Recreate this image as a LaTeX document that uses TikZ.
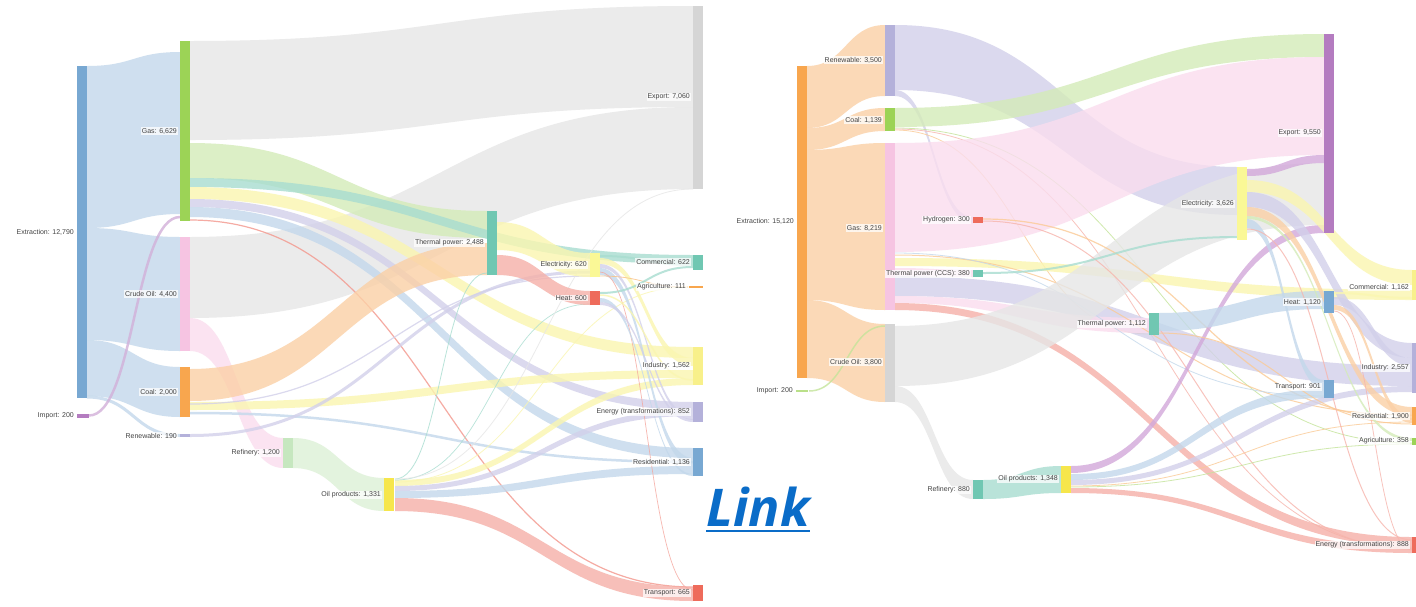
\documentclass[tikz,border=0pt]{standalone}
\usepackage{fontspec}
\setmainfont{Liberation Sans}
\newfontfamily\linkfont{Open Sans}
\definecolor{bBlue}{HTML}{C3D8EB}
\definecolor{bGray}{HTML}{E6E6E6}
\definecolor{bGreen}{HTML}{D4EBB8}
\definecolor{bTeal}{HTML}{A8DDD0}
\definecolor{bYel}{HTML}{FAF6B0}
\definecolor{bLav}{HTML}{D2D0EA}
\definecolor{bRed}{HTML}{F5B0A8}
\definecolor{bPink}{HTML}{FADDEE}
\definecolor{bOr}{HTML}{FBD0A6}
\definecolor{bLGreen}{HTML}{DCF0D6}
\definecolor{bPur}{HTML}{D2A8DA}
\definecolor{cBlue}{HTML}{78A8D2}
\definecolor{cGreen}{HTML}{9CD356}
\definecolor{cPink}{HTML}{F6C4E2}
\definecolor{cOr}{HTML}{F8A64E}
\definecolor{cLav}{HTML}{B4B1DA}
\definecolor{cTeal}{HTML}{70C7B2}
\definecolor{cYel}{HTML}{FAF896}
\definecolor{cYel2}{HTML}{F8F08A}
\definecolor{cRed}{HTML}{EE6B5B}
\definecolor{cGray}{HTML}{D5D5D5}
\definecolor{cPur}{HTML}{B47CC0}
\definecolor{cOil}{HTML}{F6E64C}
\definecolor{cRefL}{HTML}{C6E7BF}
\definecolor{linkblue}{HTML}{0A6CC8}
\definecolor{labtext}{HTML}{444444}
\newcommand{\band}[7]{%
  \fill[#7, fill opacity=0.8] (#1,#2) .. controls ({(#1+#4)/2},#2) and ({(#1+#4)/2},#5) .. (#4,#5)
   -- (#4,#6) .. controls ({(#1+#4)/2},#6) and ({(#1+#4)/2},#3) .. (#1,#3) -- cycle;}
\newcommand{\thin}[6]{%
  \draw[#5, line width=#6, opacity=0.8] (#1,#2) .. controls ({(#1+#3)/2},#2) and ({(#1+#3)/2},#4) .. (#3,#4);}
\newcommand{\sbar}[5]{%
  \node[sbarbox, fill=#5, minimum height={(#4-#3)*1pt}] (#1) at (#2,#3) {};}
\newcommand{\slab}[4]{%
  \node[labbox] (#1) at (#2,#3) {#4};}
\tikzset{
  sbarbox/.style={draw=none, inner sep=0pt, outer sep=0pt, minimum width=10pt, anchor=north west},
  labbox/.style={anchor=east, font=\fontsize{7}{8}\selectfont, text=labtext, fill=white, fill opacity=0.75, text opacity=1, inner sep=1pt}
}
\begin{document}
\begin{tikzpicture}[x=1pt,y=-1pt]
\useasboundingbox (0,0) rectangle (1416,606);
\clip (0,0) rectangle (1416,606);
\fill[white] (0,0) rectangle (1416,606);
% ================= LEFT SANKEY: bands =================
% extraction
\band{87}{66}{228}{180}{52}{214}{bBlue}
\band{87}{228}{340}{180}{237}{351}{bBlue}
\band{87}{340}{396}{180}{367}{417}{bBlue}
\thin{87}{397}{180}{435.5}{bBlue}{3}
\thin{89}{415.5}{180}{217}{cPur!60}{2.5}
% gas
\band{190}{41}{140}{693}{6}{107}{bGray}
\band{190}{237}{318}{693}{107}{189}{bGray}
\band{190}{143}{178}{487}{211}{238}{bGreen}
\band{190}{178}{187}{693}{255}{264}{bTeal}
\band{190}{187}{199}{693}{347}{358}{bYel}
\band{190}{199}{207}{693}{402}{410}{bLav}
\band{190}{207}{217}{693}{448}{458}{bBlue}
\thin{190}{220}{693}{587}{cRed!70}{1.2}
% crude
\band{190}{318}{351}{283}{438}{468}{bPink}
% coal
\band{190}{369}{401}{487}{243}{275}{bOr}
\band{190}{402}{410}{693}{370}{378}{bYel}
\thin{190}{413}{693}{462}{bBlue}{2.5}
\thin{190}{404}{590}{276}{bLav}{1.2}
% renewable
\thin{190}{435.5}{590}{272}{bLav}{3}
% refinery
\band{293}{438}{468}{384}{478}{511}{bLGreen}
% oil products
\band{395}{480}{486}{693}{378}{385}{bYel}
\band{395}{486}{491}{693}{410}{416}{bLav}
\band{395}{491}{498}{693}{466}{474}{bBlue}
\band{395}{498}{511}{693}{587}{601}{bRed}
\thin{395}{479}{487}{273}{bTeal}{0.8}
\thin{395}{480}{590}{304}{bTeal}{0.7}
\thin{395}{479}{693}{189}{bGray}{0.8}
\thin{395}{482}{688}{287}{bYel}{0.8}
% thermal power
\band{497}{222}{250}{590}{253}{277}{bYel}
\band{497}{255}{275}{590}{291}{305}{bRed}
% electricity
\thin{600}{256}{693}{265}{bTeal}{2}
\band{600}{258}{264}{693}{358}{366}{bYel}
\band{600}{264}{268}{693}{416}{420}{bLav}
\band{600}{268}{275}{693}{458}{466}{bBlue}
\thin{600}{276}{688}{287}{cOr!70}{0.8}
\thin{600}{272}{693}{590}{cRed!60}{0.7}
% heat
\thin{600}{293}{693}{267}{bTeal}{2}
\thin{600}{295}{693}{380}{bYel}{1.5}
\band{600}{298}{302}{693}{474}{476}{bBlue}
\band{600}{302}{305}{693}{419}{422}{bLav}
% ================= LEFT SANKEY: bars =================
\sbar{extL}{77}{66}{398}{cBlue}
\node[sbarbox, fill=cPur, minimum width=12pt, minimum height=4pt] (impL) at (77,414) {};
\sbar{gasL}{180}{41}{221}{cGreen}
\sbar{crudeL}{180}{237}{351}{cPink}
\sbar{coalL}{180}{367}{417}{cOr}
\sbar{renL}{180}{434}{437}{cLav}
\sbar{refL}{283}{438}{468}{cRefL}
\sbar{oilL}{384}{478}{511}{cOil}
\sbar{thermL}{487}{211}{275}{cTeal}
\sbar{elecL}{590}{253}{277}{cYel}
\sbar{heatL}{590}{291}{305}{cRed}
\sbar{expL}{693}{6}{189}{cGray}
\sbar{comL}{693}{255}{270}{cTeal}
\node[sbarbox, fill=cOr, minimum width=14pt, minimum height=2pt] (agrL) at (689,286) {};
\sbar{indL}{693}{347}{385}{cYel2}
\sbar{engL}{693}{402}{422}{cLav}
\sbar{resL}{693}{448}{476}{cBlue}
\sbar{traL}{693}{585}{601}{cRed}
% ================= LEFT labels =================
\slab{lExtL}{75}{232}{Extraction: 12,790}
\slab{lImpL}{75}{416}{Import: 200}
\slab{lGasL}{178}{131}{Gas: 6,629}
\slab{lCrudeL}{178}{294}{Crude Oil: 4,400}
\slab{lCoalL}{178}{392}{Coal: 2,000}
\slab{lRenL}{178}{436}{Renewable: 190}
\slab{lRefL}{281}{453}{Refinery: 1,200}
\slab{lOilL}{382}{495}{Oil products: 1,331}
\slab{lThermL}{485}{243}{Thermal power: 2,488}
\slab{lElecL}{588}{265}{Electricity: 620}
\slab{lHeatL}{588}{298}{Heat: 600}
\slab{lExpL}{691}{97}{Export: 7,060}
\slab{lComL}{691}{262}{Commercial: 622}
\slab{lAgrL}{687}{287}{Agriculture: 111}
\slab{lIndL}{691}{366}{Industry: 1,562}
\slab{lEngL}{691}{412}{Energy (transformations): 852}
\slab{lResL}{691}{462}{Residential: 1,136}
\slab{lTraL}{691}{593}{Transport: 665}
% ================= RIGHT SANKEY: bands =================
% extraction
\band{807}{66}{128}{885}{25}{96}{bOr}
\band{807}{128}{150}{885}{108}{131}{bOr}
\band{807}{150}{300}{885}{143}{310}{bOr}
\band{807}{300}{378}{885}{324}{402}{bOr}
\thin{809}{391}{885}{326}{cGreen!60}{1.5}
% renewable
\band{895}{25}{90}{1237}{167}{215}{bLav}
\band{895}{90}{96}{973}{217}{223}{bLav}
% coal
\band{895}{108}{127}{1324}{34}{57}{bGreen}
\thin{895}{128}{1412}{443}{cGreen!60}{0.8}
\thin{895}{129}{1412}{548}{cRed!50}{0.8}
\thin{895}{130}{1149}{334}{cOr!60}{0.8}
% gas
\band{895}{143}{252}{1324}{57}{155}{bPink}
\band{895}{258}{266}{1412}{290}{300}{bYel}
\band{895}{268}{276}{973}{270}{277}{bPink}
\band{895}{276}{296}{1412}{366}{386}{bLav}
\band{895}{296}{303}{1149}{318}{333}{bPink}
\band{895}{303}{310}{1412}{537}{546}{bRed}
\thin{895}{255}{1412}{415}{cOr!60}{1}
\thin{895}{253}{1324}{396}{bBlue}{0.8}
% crude
\band{895}{326}{386}{1324}{163}{225}{bGray}
\band{895}{386}{402}{973}{480}{499}{bGray}
% hydrogen
\thin{983}{219}{1412}{419}{cOr!60}{1.2}
\thin{983}{221}{1412}{549}{cRed!50}{1}
% CCS
\thin{983}{273}{1237}{237}{bTeal}{2}
% refinery
\band{983}{480}{499}{1061}{466}{493}{bTeal}
% oil products
\band{1071}{466}{473}{1324}{225}{233}{bPur}
\band{1071}{474}{480}{1324}{389}{398}{bBlue}
\band{1071}{480}{485}{1412}{386}{392}{bLav}
\thin{1071}{486}{1412}{422}{cOr!60}{0.8}
\thin{1071}{487}{1412}{444}{cGreen!60}{0.8}
\band{1071}{488}{493}{1412}{546}{553}{bRed}
% thermal power
\band{1158}{313}{331}{1324}{291}{309}{bBlue}
\thin{1158}{333}{1412}{424}{cOr!60}{1}
% electricity
\band{1247}{169}{176}{1324}{155}{163}{bPur}
\band{1247}{180}{192}{1412}{270}{285}{bYel}
\band{1247}{192}{207}{1412}{343}{358}{bLav}
\band{1247}{207}{216}{1412}{407}{416}{bOr}
\band{1247}{216}{219}{1412}{438}{441}{bGreen}
\band{1247}{219}{228}{1324}{380}{389}{bBlue}
\thin{1247}{229}{1412}{540}{cRed!50}{1}
% heat
\band{1334}{297}{305}{1412}{358}{366}{bLav}
\band{1334}{305}{310}{1412}{416}{423}{bOr}
\thin{1334}{311}{1412}{550}{cRed!50}{0.8}
\thin{1334}{293}{1412}{298}{bYel}{2}
% ================= RIGHT SANKEY: bars =================
\sbar{extR}{797}{66}{378}{cOr}
\node[sbarbox, fill=cGreen!70, minimum width=12pt, minimum height=2pt] (impR) at (796,390) {};
\sbar{renR}{885}{25}{96}{cLav}
\sbar{coalR}{885}{108}{131}{cGreen}
\sbar{gasR}{885}{143}{310}{cPink}
\sbar{crudeR}{885}{324}{402}{cGray}
\sbar{hydR}{973}{217}{223}{cRed}
\sbar{ccsR}{973}{270}{277}{cTeal}
\sbar{refR}{973}{480}{499}{cTeal}
\sbar{oilR}{1061}{466}{493}{cOil}
\sbar{thermR}{1149}{313}{335}{cTeal}
\sbar{elecR}{1237}{167}{240}{cYel}
\sbar{expR}{1324}{34}{233}{cPur}
\sbar{heatR}{1324}{291}{313}{cBlue}
\sbar{traR}{1324}{380}{398}{cBlue}
\sbar{comR}{1412}{270}{300}{cYel2}
\sbar{indR}{1412}{343}{393}{cLav}
\sbar{resR}{1412}{407}{425}{cOr}
\sbar{agrR}{1412}{438}{445}{cGreen}
\sbar{engR}{1412}{537}{553}{cRed}
% ================= RIGHT labels =================
\slab{lExtR}{795}{221}{Extraction: 15,120}
\slab{lImpR}{794}{391}{Import: 200}
\slab{lRenR}{883}{60}{Renewable: 3,500}
\slab{lCoalR}{883}{120}{Coal: 1,139}
\slab{lGasR}{883}{228}{Gas: 8,219}
\slab{lCrudeR}{883}{362}{Crude Oil: 3,800}
\slab{lHydR}{971}{220}{Hydrogen: 300}
\slab{lCcsR}{971}{274}{Thermal power (CCS): 380}
\slab{lRefR}{971}{490}{Refinery: 880}
\slab{lOilR}{1059}{479}{Oil products: 1,348}
\slab{lThermR}{1147}{324}{Thermal power: 1,112}
\slab{lElecR}{1235}{204}{Electricity: 3,626}
\slab{lExpR}{1322}{133}{Export: 9,550}
\slab{lHeatR}{1322}{302}{Heat: 1,120}
\slab{lTraR}{1322}{387}{Transport: 901}
\slab{lComR}{1410}{287}{Commercial: 1,162}
\slab{lIndR}{1410}{368}{Industry: 2,557}
\slab{lResR}{1410}{416}{Residential: 1,900}
\slab{lAgrR}{1410}{441}{Agriculture: 358}
\slab{lEngR}{1410}{545}{Energy (transformations): 888}
% ================= Link =================
\node[font=\linkfont\bfseries\itshape\fontsize{52}{54}\selectfont, text=linkblue, inner sep=0pt, anchor=base] (link) at (758,526) {Link};
\draw[linkblue, line width=2.5pt] ([yshift=-5pt]link.base west) -- ([yshift=-5pt]link.base east);
\end{tikzpicture}
\end{document}
